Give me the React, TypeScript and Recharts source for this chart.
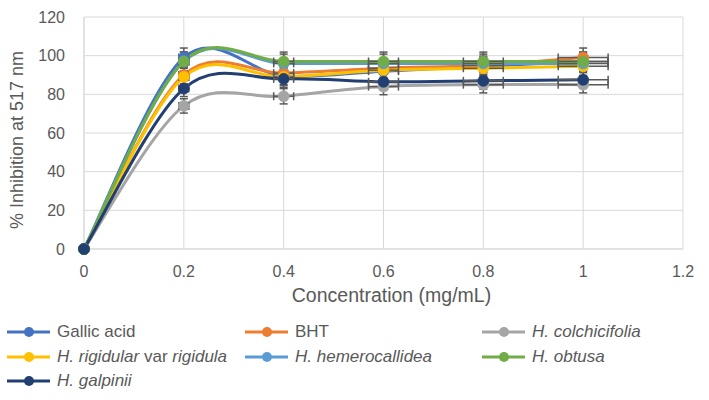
import React from 'react';
import { ComposedChart, Line, Scatter, XAxis, YAxis, CartesianGrid, ErrorBar } from 'recharts';

const concentrations = [0, 0.2, 0.4, 0.6, 0.8, 1];
const xErrors = [0, 0.01, 0.02, 0.03, 0.04, 0.05];
const gallicAcid = [0, 99, 89.5, 92, 94.5, 97];
const bht = [0, 90, 91, 93.5, 95, 99];
const colchicifolia = [0, 74, 79, 84, 85, 85];
const rigidula = [0, 89, 89, 92.5, 93.5, 94.5];
const hemerocallidea = [0, 97, 96, 96, 96, 96];
const obtusa = [0, 97, 97, 97, 97, 97];
const galpinii = [0, 83, 88, 86.5, 87, 87.5];
const xTicks = [0, 0.2, 0.4, 0.6, 0.8, 1, 1.2];
const yTicks = [0, 20, 40, 60, 80, 100, 120];
const Y_ERR_PCT = 0.05;

type Part = { t: string; i: boolean };
const series: { key: string; values: number[]; color: string; label: Part[] }[] = [
  { key: 'ga', values: gallicAcid, color: '#4472C4', label: [{ t: 'Gallic acid', i: false }] },
  { key: 'bht', values: bht, color: '#ED7D31', label: [{ t: 'BHT', i: false }] },
  { key: 'col', values: colchicifolia, color: '#A5A5A5', label: [{ t: 'H. colchicifolia', i: true }] },
  {
    key: 'rig',
    values: rigidula,
    color: '#FFC000',
    label: [
      { t: 'H. rigidular', i: true },
      { t: ' var ', i: false },
      { t: 'rigidula', i: true },
    ],
  },
  { key: 'hem', values: hemerocallidea, color: '#5B9BD5', label: [{ t: 'H. hemerocallidea', i: true }] },
  { key: 'obt', values: obtusa, color: '#70AD47', label: [{ t: 'H. obtusa', i: true }] },
  { key: 'gal', values: galpinii, color: '#223F72', label: [{ t: 'H. galpinii', i: true }] },
];

const seriesData = series.map((s) =>
  concentrations.map((x, idx) => ({
    x,
    y: s.values[idx],
    xe: xErrors[idx],
    ye: s.values[idx] * Y_ERR_PCT,
  }))
);

// Excel-style smoothed line (Catmull-Rom as cubic Bezier)
const excelSmooth = (context: any) => {
  let pts: number[][] = [];
  return {
    areaStart() {},
    areaEnd() {},
    lineStart() {
      pts = [];
    },
    lineEnd() {
      const n = pts.length;
      if (!n) return;
      context.moveTo(pts[0][0], pts[0][1]);
      for (let i = 0; i < n - 1; i++) {
        const p0 = pts[Math.max(i - 1, 0)];
        const p1 = pts[i];
        const p2 = pts[i + 1];
        const p3 = pts[Math.min(i + 2, n - 1)];
        context.bezierCurveTo(
          p1[0] + (p2[0] - p0[0]) / 6,
          p1[1] + (p2[1] - p0[1]) / 6,
          p2[0] - (p3[0] - p1[0]) / 6,
          p2[1] - (p3[1] - p1[1]) / 6,
          p2[0],
          p2[1]
        );
      }
    },
    point(x: number, y: number) {
      pts.push([+x, +y]);
    },
  };
};

const FONT = '"Liberation Sans", Arial, sans-serif';
const TEXT = '#595959';
const GRID = '#D9D9D9';
const ERR = '#595959';

const legendCols = [7, 245, 482];
const legendRows = [332, 357, 381];

const YTitle = () => (
  <text
    x={17}
    y={140}
    transform="rotate(-90 17 140)"
    textAnchor="middle"
    dominantBaseline="central"
    fill={TEXT}
    fontSize={18}
    fontFamily={FONT}
  >
    % Inhibition at 517 nm
  </text>
);

export default function App() {
  return (
    <div style={{ position: 'absolute', left: 0, top: 0, width: 709, height: 400, background: '#fff', fontFamily: FONT }}>
      <ComposedChart width={709} height={310} margin={{ top: 17, right: 26, left: 0, bottom: 0 }}>
        <CartesianGrid stroke={GRID} strokeWidth={1} />
        <XAxis
          dataKey="x"
          type="number"
          domain={[0, 1.2]}
          ticks={xTicks}
          height={61}
          tickSize={0}
          tickMargin={17}
          axisLine={{ stroke: GRID }}
          tick={{ fill: TEXT, fontSize: 16, fontFamily: FONT }}
          label={{ value: 'Concentration (mg/mL)', position: 'insideBottom', offset: 8, dx: 8, fill: TEXT, fontSize: 19.5, fontFamily: FONT }}
        />
        <YAxis
          type="number"
          domain={[0, 120]}
          ticks={yTicks}
          width={84}
          tickSize={0}
          tickMargin={19}
          axisLine={{ stroke: GRID }}
          tick={{ fill: TEXT, fontSize: 16, fontFamily: FONT }}
          label={{ content: () => <YTitle /> }}
        />
        {series.flatMap((s, i) => [
          <Line
            key={s.key + '-line'}
            data={seriesData[i]}
            dataKey="y"
            type={excelSmooth as any}
            stroke={s.color}
            strokeWidth={3}
            dot={false}
            activeDot={false}
            isAnimationActive={false}
          />,
          <Scatter
            key={s.key + '-pts'}
            data={seriesData[i]}
            dataKey="y"
            fill={s.color}
            isAnimationActive={false}
            shape={(p: any) => <circle cx={p.cx} cy={p.cy} r={5.5} fill={s.color} stroke={s.color} strokeWidth={0.75} />}
          >
            <ErrorBar dataKey="ye" direction="y" width={4} stroke={ERR} strokeWidth={1.5} isAnimationActive={false} />
            <ErrorBar dataKey="xe" direction="x" width={4} stroke={ERR} strokeWidth={1.5} isAnimationActive={false} />
          </Scatter>,
        ])}
      </ComposedChart>
      {series.map((s, i) => (
        <div
          key={s.key}
          style={{
            position: 'absolute',
            left: legendCols[i % 3],
            top: legendRows[Math.floor(i / 3)] - 11,
            height: 22,
            display: 'flex',
            alignItems: 'center',
            whiteSpace: 'nowrap',
            fontSize: 17,
            color: TEXT,
          }}
        >
          <svg width={43} height={12} style={{ marginRight: 7 }}>
            <line x1={0} y1={6} x2={43} y2={6} stroke={s.color} strokeWidth={3} />
            <circle cx={22} cy={6} r={5} fill={s.color} />
          </svg>
          <span>
            {s.label.map((p, j) => (
              <span key={j} style={{ fontStyle: p.i ? 'italic' : 'normal' }}>
                {p.t}
              </span>
            ))}
          </span>
        </div>
      ))}
    </div>
  );
}
